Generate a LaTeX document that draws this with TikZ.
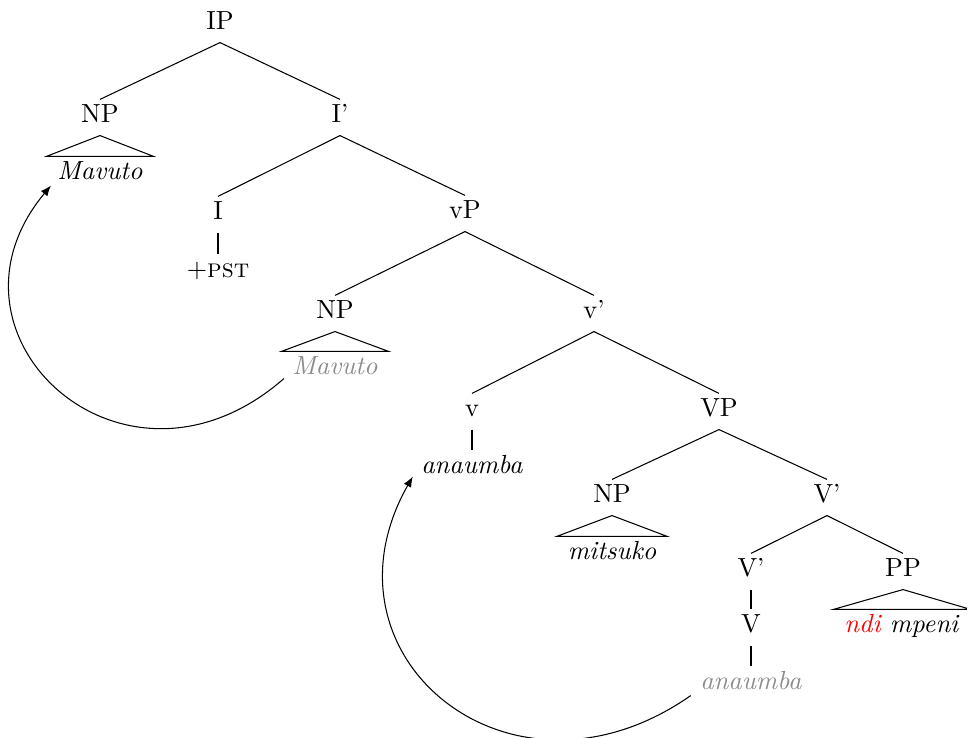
\documentclass[tikz,border=0pt]{standalone}
\usepackage{amsmath}
\usepackage{tikz}
\usetikzlibrary{arrows.meta}

\begin{document}
\begin{tikzpicture}[x=0.01342cm, y=-0.01342cm,
	every node/.style={anchor=base, inner xsep=4pt, inner ysep=2pt, text height=6.8pt, text depth=2.6pt},
	trace/.style={text=black!45},
	move/.style={-{Latex[length=4pt, width=3.2pt]}}]
	\useasboundingbox (0,0) rectangle (967,738);
	\node (ip) at (220,30) {IP};
%     % I
	\node (np) at (100,123) {NP};
	\node (mavuto) at (100,180) {\textit{Mavuto}};
	\node (ibar) at (340,123) {I'};
	\node (i) at (218,220) {I};
	\node (pst) at (218,278) {+\textsc{pst}};
	\draw (ip.south) -- (np.north);
	\draw (ip.south) -- (ibar.north);
	\draw (np.south) -- (mavuto.north west) -- (mavuto.north east) -- cycle;
	\draw (ibar.south) -- (i.north);
	\draw (i.south) -- (i.south |- pst.north);
%     % vP
	\node (vp) at (465,219) {vP};
	\node (npt) at (335,319) {NP};
	\node[trace] (mavutot) at (335,375) {\textit{Mavuto}};
	\node (vbar) at (594,319) {v'};
	\node (v) at (472,417) {v};
	\node (anaumba) at (472,474) {\textit{anaumba}};
	\draw (ibar.south) -- (vp.north);
	\draw (vp.south) -- (npt.north);
	\draw (vp.south) -- (vbar.north);
	\draw (npt.south) -- (mavutot.north west) -- (mavutot.north east) -- cycle;
	\draw (vbar.south) -- (v.north);
	\draw (v.south) -- (anaumba.north);
%     % VP
	\node (VP) at (719,417) {VP};
	\node (np2) at (612,503) {NP};
	\node (mitsuko) at (612,560) {\textit{mitsuko}};
	\node (Vbar) at (827,503) {V'};
	\node (Vbarb) at (751,577) {V'};
	\node (V) at (751,633) {V};
	\node[trace] (anaumbat) at (751,690) {\textit{anaumba}};
	\node (PP) at (903,577) {PP};
	\node (ndimpeni) at (902,633) {\textit{\textcolor{red}{ndi} mpeni}};
	\draw (vbar.south) -- (VP.north);
	\draw (VP.south) -- (np2.north);
	\draw (VP.south) -- (Vbar.north);
	\draw (np2.south) -- (mitsuko.north west) -- (mitsuko.north east) -- cycle;
	\draw (Vbar.south) -- (Vbarb.north);
	\draw (Vbar.south) -- (PP.north);
	\draw (Vbarb.south) -- (V.north);
	\draw (V.south) -- (anaumbat.north);
	\draw (PP.south) -- (ndimpeni.north west) -- (ndimpeni.north east) -- cycle;
	% movement
	\draw[move] ([shift={(2.5,-9)}]mavutot.south west) .. controls +(-160,140) and +(-125,150) .. ([shift={(4.5,-7)}]mavuto.south west);
	\draw[move] ([shift={(1.5,-7)}]anaumbat.south west) .. controls +(-180,126) and +(-102,180) .. ([shift={(2.5,-10)}]anaumba.south west);
\end{tikzpicture}
\end{document}
